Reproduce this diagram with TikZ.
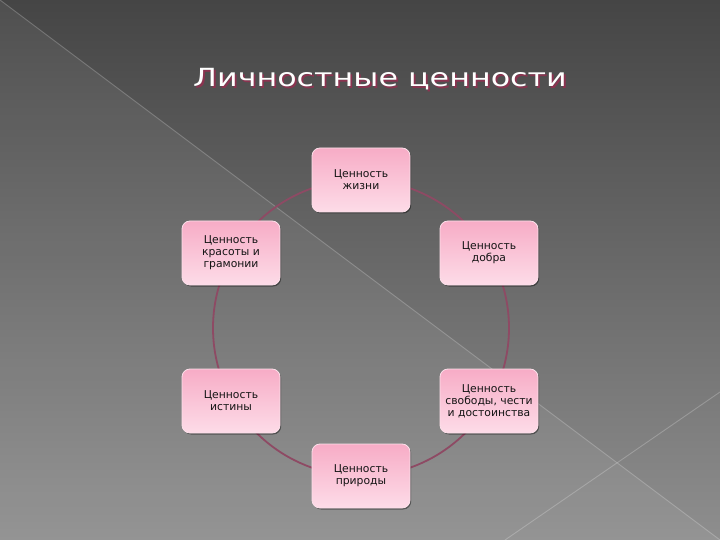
\documentclass[tikz,border=0pt]{standalone}
\usepackage{fontspec}
\setmainfont{DejaVu Sans}
\usetikzlibrary{shadows,shadings}
\definecolor{bgtop}{HTML}{454545}
\definecolor{bgbot}{HTML}{8E8E8E}
\definecolor{ringcol}{HTML}{8E4A64}
\definecolor{boxtop}{HTML}{F7ACC6}
\definecolor{boxbot}{HTML}{FDDCE8}
\definecolor{boxedge}{HTML}{FCE0EA}
\definecolor{titleshadow}{HTML}{8A3450}
\newcommand{\shadowtitle}[1]{\rlap{\hspace{1.8pt}\raisebox{-1.8pt}{\textcolor{titleshadow}{\scalebox{1.27}[1]{#1}}}}\textcolor{white}{\scalebox{1.27}[1]{#1}}}
\tikzset{
  valbox/.style={rectangle, rounded corners=8pt, minimum width=98pt, minimum height=64pt,
    top color=boxtop, bottom color=boxbot, draw=boxedge, line width=0.8pt,
    align=center, text=black!92, font=\fontsize{10.8}{12}\selectfont, inner sep=2pt,
    drop shadow={shadow xshift=1.2pt, shadow yshift=-1.5pt, opacity=0.4, fill=black}},
  ring/.style={circle, draw=ringcol, line width=1.8pt, minimum size=296pt, inner sep=0pt},
  bgline/.style={draw=white, opacity=0.22, line width=0.9pt},
  titletext/.style={font=\fontsize{25}{30}\selectfont, inner sep=0pt}
}
\begin{document}
\begin{tikzpicture}[x=1pt,y=-1pt]
  \useasboundingbox (0,0) rectangle (720,540);
  % background
  \shade[top color=bgtop, bottom color=bgbot] (0,0) rectangle (720,540);
  \fill[white, opacity=0.06] (0,0) -- (720,540) -- (0,540) -- cycle;
  \coordinate (d1) at (0,0);
  \coordinate (d2) at (720,540);
  \coordinate (e1) at (720,392);
  \coordinate (e2) at (505,540);
  \draw[bgline] (d1) -- (d2);
  \draw[bgline] (e1) -- (e2);
  % title
  \node[titletext] (title) at (380,80) {\shadowtitle{Личностные ценности}};
  % ring
  \node[ring] (cycle) at (361,328) {};
  % boxes
  \node[valbox] (life) at (361,180) {Ценность\\жизни};
  \node[valbox] (good) at (489,253) {Ценность\\добра};
  \node[valbox] (free) at (489,401) {Ценность\\свободы, чести\\и достоинства};
  \node[valbox] (nature) at (361,476) {Ценность\\природы};
  \node[valbox] (truth) at (231,401) {Ценность\\истины};
  \node[valbox] (beauty) at (231,253) {Ценность\\красоты и\\грамонии};
\end{tikzpicture}
\end{document}
